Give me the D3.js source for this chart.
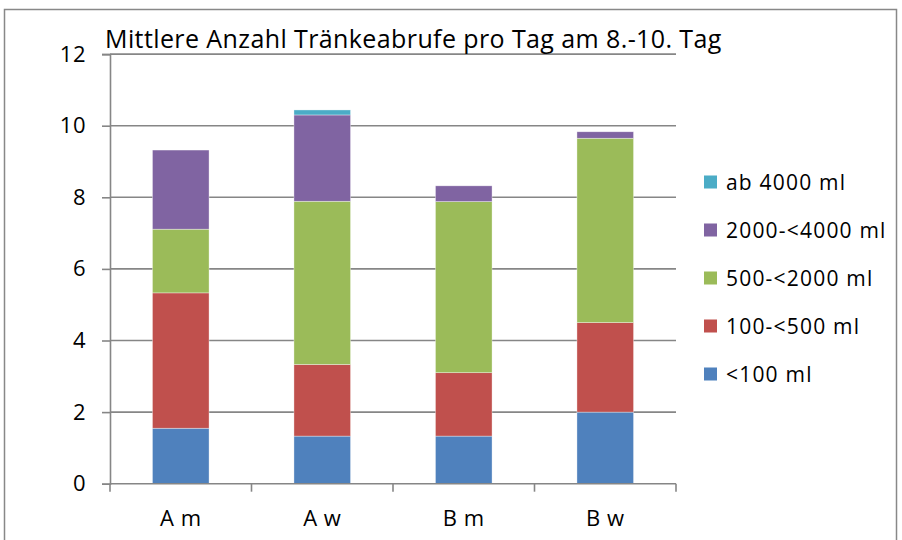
<!DOCTYPE html>
<html>
<head>
<meta charset="utf-8">
<script src="https://cdn.jsdelivr.net/npm/d3@7"></script>
<style>
  body { margin: 0; background: #fff; }
  text { font-family: "Open Sans", sans-serif; fill: #000; }
</style>
</head>
<body>
<script>
const categories = ['A m', 'A w', 'B m', 'B w'];
const seriesNames = ['<100 ml', '100-<500 ml', '500-<2000 ml', '2000-<4000 ml', 'ab 4000 ml'];
const under100 = [1.55, 1.33, 1.33, 2.00];
const from100 = [3.78, 2.00, 1.77, 2.50];
const from500 = [1.78, 4.56, 4.78, 5.15];
const from2000 = [2.21, 2.41, 0.44, 0.18];
const over4000 = [0, 0.14, 0, 0];
const yTicks = [0, 2, 4, 6, 8, 10, 12];
const colors = ['#4F81BD', '#C0504D', '#9BBB59', '#8064A2', '#4BACC6'];

const seriesValues = [under100, from100, from500, from2000, over4000];
const rows = categories.map((c, i) => {
  const row = { cat: c };
  seriesNames.forEach((s, j) => { row[s] = seriesValues[j][i]; });
  return row;
});

const svgWidth = 902,
  svgHeight = 540;
const svg = d3.select('body').append('svg')
  .attr('width', svgWidth)
  .attr('height', svgHeight);

// outer chart frame
svg.append('rect')
  .attr('x', 4.5).attr('y', 9.5)
  .attr('width', 892).attr('height', 560)
  .attr('fill', 'none')
  .attr('stroke', '#888')
  .attr('stroke-width', 1.5);

const plotLeft = 110, plotRight = 676, plotTop = 54.1, plotBottom = 483.7;

const x = d3.scaleBand()
  .domain(categories)
  .range([plotLeft, plotRight])
  .paddingInner(0.6)
  .paddingOuter(0.3);

const y = d3.scaleLinear()
  .domain([0, 12])
  .range([plotBottom, plotTop]);

// gridlines
svg.append('g')
  .selectAll('line')
  .data(yTicks.filter(d => d > 0))
  .enter()
  .append('line')
  .attr('x1', plotLeft).attr('x2', plotRight)
  .attr('y1', d => y(d)).attr('y2', d => y(d))
  .attr('stroke', '#868686')
  .attr('stroke-width', 1.6);

const stack = d3.stack().keys(seriesNames);
const layers = stack(rows);

svg.append('g')
  .selectAll('g')
  .data(layers)
  .enter()
  .append('g')
  .attr('fill', (d, i) => colors[i])
  .selectAll('rect')
  .data(d => d.filter(p => p[1] - p[0] > 0))
  .enter()
  .append('rect')
  .attr('x', d => x(d.data.cat))
  .attr('width', x.bandwidth())
  .attr('y', d => y(d[1]))
  .attr('height', d => y(d[0]) - y(d[1]))
  .attr('stroke', '#fff')
  .attr('stroke-opacity', 0.6)
  .attr('stroke-width', 0.6);

// y axis
const yAxis = svg.append('g')
  .attr('transform', `translate(${plotLeft},0)`)
  .call(d3.axisLeft(y).tickValues(yTicks).tickSize(8).tickPadding(16));
yAxis.select('.domain').attr('stroke', '#868686').attr('stroke-width', 1.6);
yAxis.selectAll('.tick line').attr('stroke', '#868686').attr('stroke-width', 1.6);
yAxis.selectAll('.tick text')
  .style('font-size', '22px')
  .style('letter-spacing', '0.5px')
  .style('font-family', '"Open Sans", sans-serif')
  .attr('fill', '#000');

// x axis with ticks at category boundaries
const boundaries = d3.range(categories.length + 1).map(i => plotLeft + i * (plotRight - plotLeft) / categories.length);
const xAxis = svg.append('g');
xAxis.append('line')
  .attr('x1', plotLeft).attr('x2', plotRight)
  .attr('y1', plotBottom).attr('y2', plotBottom)
  .attr('stroke', '#868686')
  .attr('stroke-width', 1.6);
xAxis.selectAll('line.tk')
  .data(boundaries)
  .enter()
  .append('line')
  .attr('class', 'tk')
  .attr('x1', d => d).attr('x2', d => d)
  .attr('y1', plotBottom).attr('y2', plotBottom + 8)
  .attr('stroke', '#868686')
  .attr('stroke-width', 1.6);
xAxis.selectAll('text')
  .data(categories)
  .enter()
  .append('text')
  .attr('x', d => x(d) + x.bandwidth() / 2)
  .attr('y', 526)
  .attr('text-anchor', 'middle')
  .style('font-size', '22px')
  .style('letter-spacing', '0.5px')
  .text(d => d);

// title
svg.append('text')
  .attr('x', 105)
  .attr('y', 48)
  .style('font-size', '25px')
  .style('letter-spacing', '0.4px')
  .text('Mittlere Anzahl Tränkeabrufe pro Tag am 8.-10. Tag');

// legend
const legend = svg.append('g')
  .selectAll('g')
  .data(seriesNames.slice().reverse())
  .enter()
  .append('g')
  .attr('transform', (d, i) => `translate(704,${182 + i * 48})`);
legend.append('rect')
  .attr('x', 0).attr('y', -6.5)
  .attr('width', 13).attr('height', 13)
  .attr('fill', d => colors[seriesNames.indexOf(d)]);
legend.append('text')
  .attr('x', 22)
  .attr('y', 7.5)
  .style('font-size', '21px')
  .style('letter-spacing', '1.2px')
  .text(d => d);
</script>
</body>
</html>
